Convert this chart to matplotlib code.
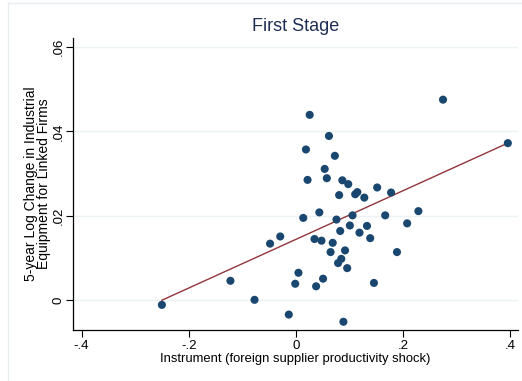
import numpy as np
import matplotlib
matplotlib.use("Agg")
from matplotlib import pyplot as plt

# instrument (x) and 5-year log change (y)
instrument = [0.275, 0.396, 0.026, 0.062, 0.019, 0.073, 0.054, 0.022, 0.058, 0.087,
              0.098, 0.081, 0.111, 0.115, 0.128, 0.152, 0.178, 0.044, 0.014, 0.167,
              0.229, 0.076, 0.106, 0.208, 0.083, 0.101, 0.133, 0.119, -0.048, -0.029,
              0.035, 0.048, 0.069, 0.139, 0.065, 0.092, 0.189, 0.085, 0.079, 0.096,
              0.005, -0.001, 0.051, 0.038, 0.146, -0.013, 0.089, -0.250, -0.122, -0.077]
log_change = [0.0475, 0.0372, 0.0439, 0.0389, 0.0357, 0.0342, 0.0311, 0.0285, 0.0289, 0.0284,
              0.0275, 0.0249, 0.0251, 0.0256, 0.0243, 0.0267, 0.0255, 0.0208, 0.0195, 0.0201,
              0.0211, 0.0191, 0.0201, 0.0182, 0.0164, 0.0177, 0.0176, 0.0160, 0.0134, 0.0151,
              0.0145, 0.0141, 0.0136, 0.0147, 0.0114, 0.0118, 0.0114, 0.0098, 0.0088, 0.0076,
              0.0065, 0.0039, 0.0051, 0.0033, 0.0041, -0.0034, -0.0051, -0.0011, 0.0046, 0.0001]

# fitted line
fit_intercept = 0.0144
fit_slope = 0.0576

xticks = [-0.4, -0.2, 0, 0.2, 0.4]
xtick_labels = ["-.4", "-.2", "0", ".2", ".4"]
yticks = [0, 0.02, 0.04, 0.06]
ytick_labels = ["0", ".02", ".04", ".06"]

plt.rcParams['font.family'] = ['Liberation Sans', 'DejaVu Sans']

fig = plt.figure(figsize=(5.22, 3.81), dpi=100)
ax = fig.add_axes([73/522, 1-330/381, (518-73)/522, (330-38)/381])

x = np.array(instrument)
y = np.array(log_change)
xs = np.array([x.min(), x.max()])
ax.plot(xs, fit_intercept + fit_slope*xs, color="#90353b", lw=1.0, zorder=2)
ax.scatter(x, y, s=34, color="#1a476f", edgecolors="none", zorder=3)

ax.set_xlim(-0.416, 0.415)
ax.set_ylim(-0.00705, 0.0621)
ax.set_xticks(xticks)
ax.set_xticklabels(xtick_labels, fontsize=9.5)
ax.set_yticks(yticks)
ax.set_yticklabels(ytick_labels, fontsize=9.5, rotation=90, va="center")
ax.tick_params(direction="out", length=5, width=0.8, colors="black", pad=2)
ax.tick_params(axis="y", pad=1)
ax.grid(axis="y", color="#eaf2f3", lw=1.0, zorder=0)
ax.set_axisbelow(True)
for s in ["top", "right"]:
    ax.spines[s].set_visible(False)
ax.spines["left"].set_linewidth(0.9)
ax.spines["bottom"].set_linewidth(0.9)

ax.set_title("First Stage", fontsize=13, color="#1e2d53", pad=5)
ax.set_xlabel("Instrument (foreign supplier productivity shock)", fontsize=9.4, labelpad=1)
ax.set_ylabel("5-year Log Change in Industrial\nEquipment for Linked Firms", fontsize=10,
              linespacing=0.92, labelpad=1)

# faint outer frame
fig.add_artist(plt.Line2D([8/522, 8/522], [0, 1-3/381], color="#e8eef0", lw=1))
fig.add_artist(plt.Line2D([8/522, 1], [1-3/381, 1-3/381], color="#e8eef0", lw=1))

fig.savefig("out.png", dpi=100)
